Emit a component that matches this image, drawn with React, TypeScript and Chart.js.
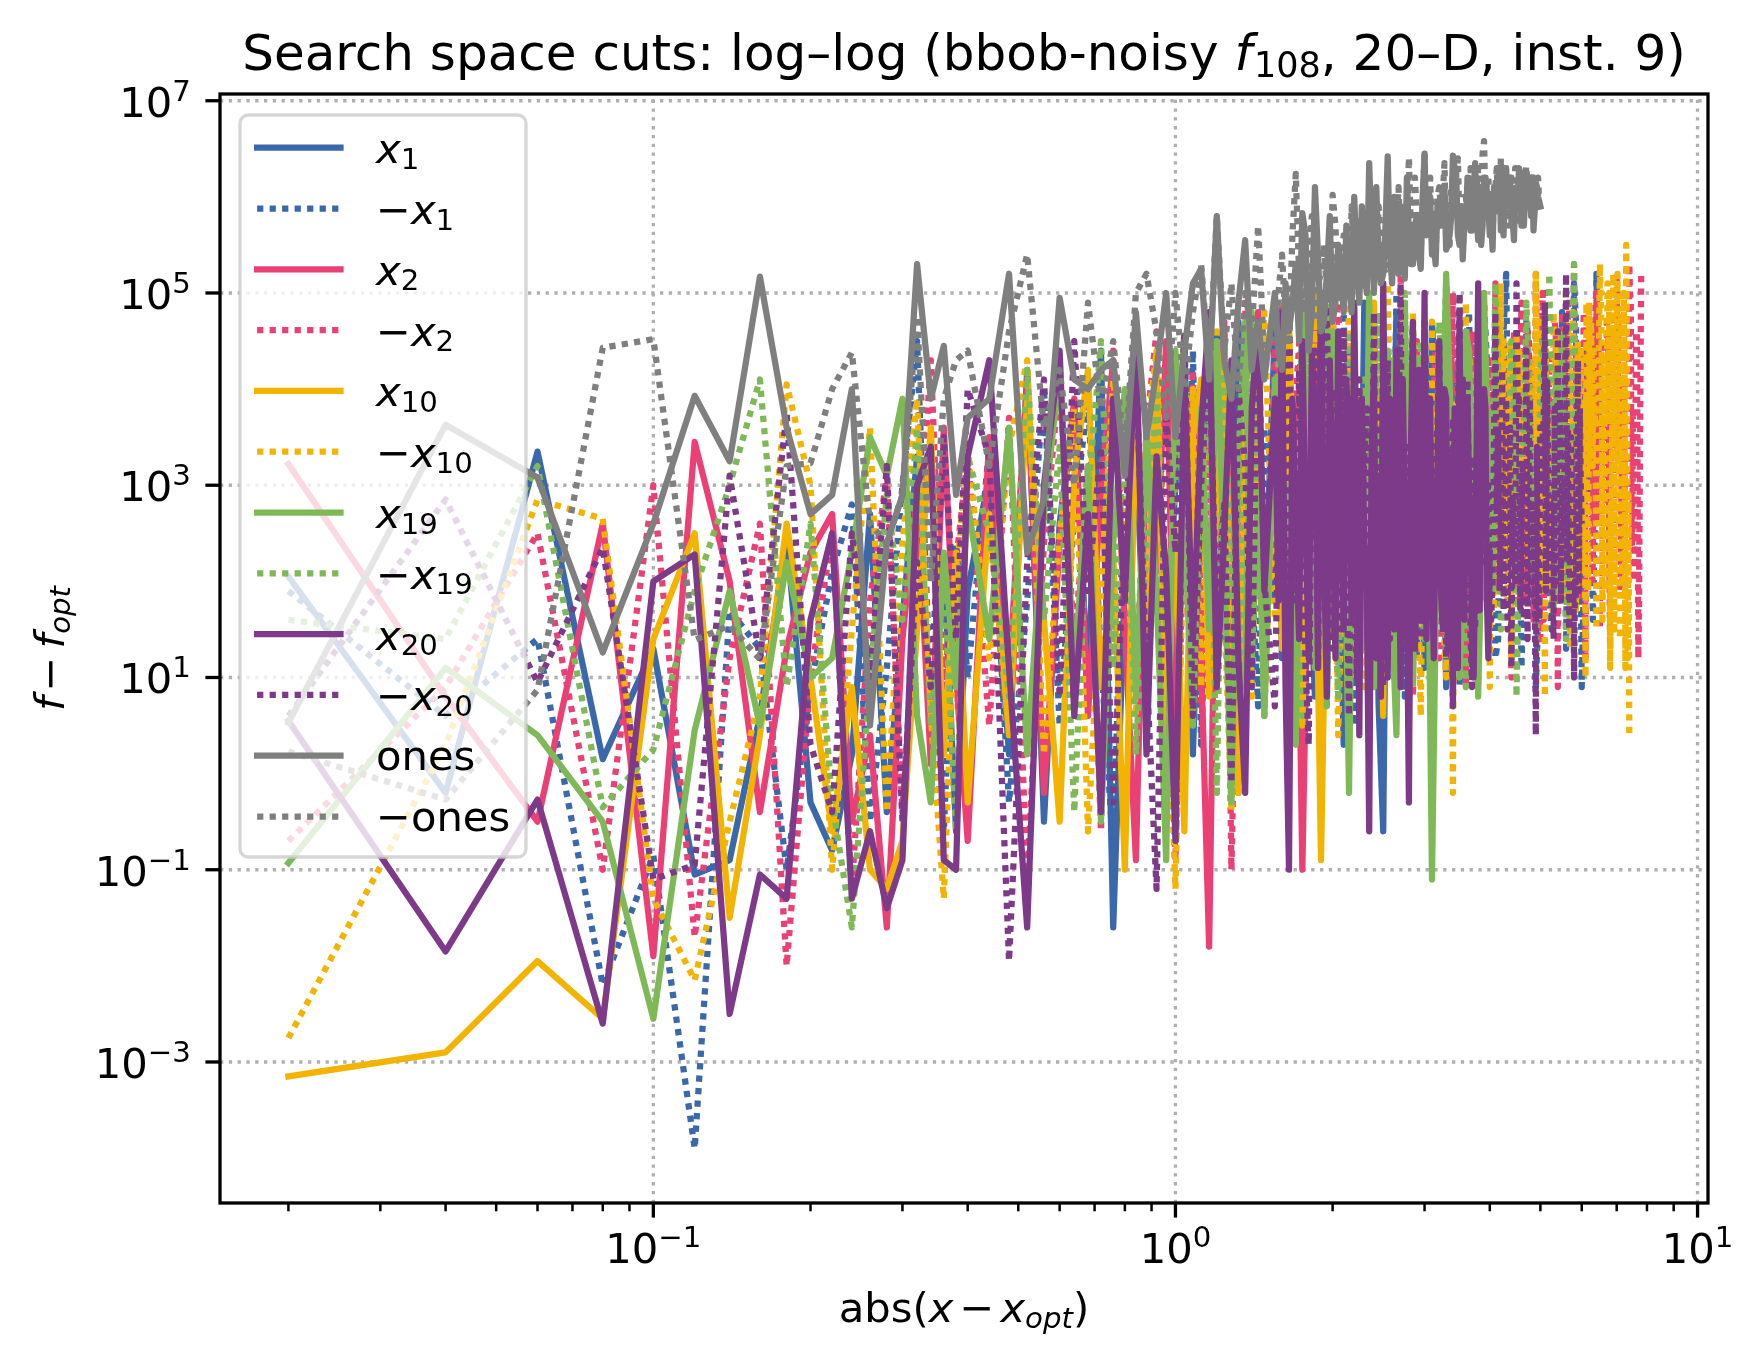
import { useEffect, useRef } from "react"
import { Chart, registerables } from "chart.js"

Chart.register(...registerables)

// abs(x - x_opt) sample positions
const X_GRID = [
  0.02, 0.04, 0.06, 0.08, 0.1, 0.12, 0.14, 0.16, 0.18, 0.2, 0.22, 0.24, 0.26, 0.28, 0.3, 0.32, 0.34, 0.36, 0.38, 0.4,
  0.44, 0.48, 0.52, 0.56, 0.6, 0.64, 0.68, 0.72, 0.76, 0.8, 0.84, 0.88, 0.92, 0.96, 1.0, 1.04, 1.08, 1.12, 1.16, 1.2,
  1.24, 1.28, 1.32, 1.36, 1.4, 1.44, 1.48,
  1.55, 1.6, 1.65, 1.7, 1.75, 1.8, 1.85, 1.9, 1.95, 2.0, 2.05, 2.1, 2.15, 2.2, 2.25, 2.3, 2.35, 2.4, 2.45, 2.5, 2.55,
  2.6, 2.65, 2.7, 2.75, 2.8, 2.85, 2.9, 2.95, 3.0,
  3.05, 3.1, 3.15, 3.2, 3.25, 3.3, 3.35, 3.4, 3.45, 3.5, 3.55, 3.6, 3.65, 3.7, 3.75, 3.8, 3.85, 3.9, 3.95, 4.0,
  4.05, 4.1, 4.15, 4.2, 4.25, 4.3, 4.35, 4.4, 4.45, 4.5, 4.55, 4.6, 4.65, 4.7, 4.75, 4.8, 4.85, 4.9, 4.95, 5.0,
  5.05, 5.1, 5.15, 5.2, 5.25, 5.3, 5.35, 5.4, 5.45, 5.5, 5.55, 5.6, 5.65, 5.7, 5.75, 5.8, 5.85, 5.9, 5.95, 6.0,
  6.05, 6.1, 6.15, 6.2, 6.25, 6.3, 6.35, 6.4, 6.45, 6.5, 6.55, 6.6, 6.65, 6.7, 6.75, 6.8, 6.85, 6.9, 6.95, 7.0,
  7.05, 7.1, 7.15, 7.2, 7.25, 7.3, 7.35, 7.4, 7.45, 7.5, 7.55, 7.6, 7.65, 7.7, 7.75, 7.8,
]
// extra in-between samples used where the reference is densest
const X_MID_C = [
  1.575, 1.625, 1.675, 1.725, 1.775, 1.825, 1.875, 1.925, 1.975, 2.025, 2.075, 2.125, 2.175, 2.225, 2.275, 2.325,
  2.375, 2.425, 2.475, 2.525, 2.575, 2.625, 2.675, 2.725, 2.775, 2.825, 2.875, 2.925, 2.975,
]
const X_MID_D = [
  3.025, 3.075, 3.125, 3.175, 3.225, 3.275, 3.325, 3.375, 3.425, 3.475, 3.525, 3.575, 3.625, 3.675, 3.725, 3.775,
  3.825, 3.875, 3.925, 3.975,
  4.025, 4.075, 4.125, 4.175, 4.225, 4.275, 4.325, 4.375, 4.425, 4.475, 4.525, 4.575, 4.625, 4.675, 4.725, 4.775,
  4.825, 4.875, 4.925, 4.975,
  5.025, 5.075, 5.125, 5.175, 5.225, 5.275, 5.325, 5.375, 5.425, 5.475, 5.525, 5.575, 5.625, 5.675, 5.725, 5.775,
  5.825, 5.875, 5.925, 5.975,
  6.025, 6.075, 6.125, 6.175, 6.225, 6.275, 6.325, 6.375, 6.425, 6.475, 6.525, 6.575, 6.625, 6.675, 6.725, 6.775,
  6.825, 6.875, 6.925, 6.975,
  7.025, 7.075, 7.125, 7.175, 7.225, 7.275, 7.325, 7.375, 7.425, 7.475, 7.525, 7.575, 7.625, 7.675, 7.725, 7.775,
]

// log10(f - f_opt) along each direction, index i belongs to X_GRID[i]
const LOG_X1 = [
  2.05, -0.2, 3.35, 0.15, 1.3, -1.05, -0.9, 0.6, 2.45, -0.3, -0.8, 0.2, 2.7, -0.4, 1.6, 3.3, 0.4, 2.2, -0.6, 1.9,
  3.1, 0.2, 4.2, -0.5, 2.6, 3.8, 0.9, 4.4, -1.6, 2.0, 3.5, 0.6, 4.1, 1.4, 3.0, 4.5, 0.2, 2.8, 4.3, 1.1, 3.6, 0.5, 4.7,
  2.2, 0.9, 3.9, 1.6,
  4.6, 1.2, 3.4, 0.4, 4.9, 2.3, 0.8, 3.7, 4.8, 1.5, 2.9, 0.3, 4.4, 3.1, 1.0, 4.9, 2.2, 3.6, 0.7, -0.6, 4.1, 2.5, 4.8,
  1.3, 3.3, 0.5, 4.6, 2.0, 3.8, 1.1,
  2.2, 4.7, 4.0, 2.4, 3.1, 0.9, 1.7, 4.2, 2.6, 3.0,
]
const LOG_NX1 = [
  1.9, 0.6, 1.4, -2.2, -0.85, -3.9, 1.7, 1.3, -1.0, 0.9, 2.1, 2.8, -0.5, 1.1, 3.0, 4.5, 0.7, -0.6, 2.4, 1.0,
  3.4, -0.3, 1.8, 4.0, 0.5, 2.7, 3.9, 1.2, -0.8, 3.3, 4.3, 0.8, 2.5, -0.4, 3.8, 1.9, 4.4, 0.3, 2.9, 4.6, 1.4, 3.2, -0.2,
  4.1, 2.0, 0.7, 3.6,
  1.8, 4.5, 0.6, 3.0, 4.9, 1.3, 2.6, 0.2, 4.3, 3.5, 1.0, 4.8, 2.1, 0.5, 3.9, 1.7, 4.6, 2.9, 0.9, 4.2, 3.3, 1.5, 5.0,
  2.4, 0.8, 3.7, 4.7, 1.2, 2.8, 4.4,
  4.2, 1.6, 2.5, 3.9, 3.6, 5.1, 4.4, 2.2, 2.9, 0.9, 1.7, 4.5, 4.8, 3.0, 3.2, 1.8, 2.0, 4.9, 4.3, 2.6,
  3.6, 1.2, 1.4, 4.1, 4.6, 5.2, 2.9, 2.0, 4.0, 3.4, 3.3, 1.1, 2.2, 4.7, 4.5, 2.8, 3.8, 0.9, 1.6, 4.3,
  2.7, 5.0, 4.4, 1.9, 1.5, 3.6, 3.9, 2.4, 2.3, 4.8, 4.6, 1.3, 3.5, 3.1, 1.8, 5.1, 4.7, 2.2, 3.0, 0.9,
  1.9, 4.4, 4.1, 2.9, 3.6, 1.6, 2.4, 5.2, 4.5, 3.3,
]
const LOG_X2 = [
  3.22, 0.8, -0.5, 2.6, -1.9, 3.45, 2.0, -0.4, 1.3, 2.3, 2.7, -0.5, 0.4, -1.6, 1.4, 2.9, 0.1, 3.6, 1.0, -0.7,
  3.5, 1.0, 4.1, -0.2, 2.4, 3.9, 0.6, 3.0, 4.3, 1.5, -0.9, 3.6, 2.1, 4.5, 0.3, 2.8, 4.0, 1.2, -1.8, 3.4, 4.6, 1.9, 0.4,
  3.7, 2.5, 4.8, 1.0,
  3.2, 4.9, 1.4, 3.8, -1.0, 2.6, 4.7, 0.9, 3.3, 5.0, 1.8, 4.2, 2.7, 1.1,
]
const LOG_NX2 = [
  -0.7, 0.9, 2.5, -1.0, 3.0, -1.7, 1.2, 2.6, -2.0, 1.0, 2.5, -1.2, 1.8, 3.1, -0.4, 2.0, 4.3, 0.9, 2.2, 3.3,
  0.5, 3.7, -1.1, 2.4, 4.1, 1.3, 3.2, -0.6, 4.4, 2.0, 0.8, 3.6, 4.6, 1.7, -0.9, 2.9, 4.2, 0.7, 3.5, 1.9, 4.7, -1.0, 2.6,
  4.9, 1.4, 3.8, 0.6,
  4.5, 2.2, 0.4, 3.9, 5.0, 1.6, 2.8, 4.6, 0.9, 3.4, 5.1, 1.9, 0.5, 4.2, 2.5, 3.7, 1.1, 4.8, 2.9, 0.7, 4.4, 3.2, 1.5,
  5.2, 2.1, 3.8, 0.8, 4.5, 2.6, 1.4,
  2.6, 4.1, 4.4, 1.2, 1.9, 3.3, 3.1, 5.0, 4.5, 2.0, 2.8, 0.9, 1.7, 4.6, 4.3, 2.7, 2.4, 3.9, 3.6, 1.5,
  1.9, 5.1, 4.7, 2.3, 3.0, 4.2, 2.2, 1.0, 4.6, 3.5, 2.5, 4.9, 3.9, 1.8, 4.2, 2.9, 1.6, 5.2, 3.3, 1.4,
  5.0, 3.7, 2.7, 4.4, 3.9, 2.1, 4.6, 0.9, 1.8, 4.8, 2.9, 3.0, 4.9, 1.6, 3.5, 5.3, 4.4, 2.5, 2.1, 3.8,
  4.8, 1.2, 3.1, 4.5, 3.8, 2.2, 2.6, 5.0, 4.9, 1.5, 2.4, 3.4, 3.2, 4.7, 4.6, 1.3, 3.9, 2.8, 2.3, 5.2,
  4.7, 1.9, 3.0, 4.1, 4.4, 1.4, 2.2, 5.3, 4.9, 2.4, 2.0, 3.6, 4.6, 1.2, 3.0, 5.2,
]
const MID_NX2_D = [
  3.4, 2.1, 4.0, 2.7, 1.6, 3.8, 2.3, 4.2, 1.9, 3.1, 2.6, 4.4, 1.8, 3.3, 2.5, 4.1, 2.0, 3.6, 2.9, 1.7,
  4.3, 2.4, 3.2, 1.9, 4.5, 2.8, 3.5, 2.0, 3.9, 2.6, 1.8, 4.2, 3.0, 2.3, 4.6, 1.9, 3.4, 2.7, 4.0, 2.2,
  3.7, 1.6, 4.4, 2.9, 3.3, 2.1, 4.7, 2.5, 3.6, 1.9, 4.1, 2.8, 3.2, 4.8, 2.2, 3.9, 2.6, 4.4, 1.8, 3.5,
  2.9, 4.6, 2.3, 3.8, 4.2, 2.0, 3.4, 4.9, 2.6, 3.1, 4.5, 1.9, 3.7, 2.8, 4.3, 2.4, 4.8, 3.0, 2.2, 4.0,
  3.3, 4.7, 2.1, 3.9, 2.7, 4.4, 1.8, 3.6, 5.0, 2.5, 3.8, 2.2, 4.6, 3.1, 1.7, 4.2,
]
const LOG_X10 = [
  -3.15, -2.9, -1.95, -2.55, 1.4, 2.5, -1.5, 0.4, 2.6, 1.0, -0.6, 0.9, -1.0, -1.2, -0.7, 1.5, 3.6, 0.2, 2.3, -0.3,
  2.7, 0.4, 3.9, 1.6, -0.5, 3.1, 4.2, 0.9, 2.3, -1.0, 3.7, 1.4, 4.4, 0.2, 2.6, -0.6, 3.5, 4.1, 0.8, 2.9, 4.5, 1.1, -0.2,
  3.3, 2.0, 4.6, 0.7,
  3.8, 1.3, 4.7, 2.2, 0.5, 4.0, 3.1, -0.9, 2.6, 4.8, 1.7, 3.4, 0.3, 4.5, 2.0, 3.7, 1.0, 4.9, 2.8, 0.6, 4.2, 3.0,
]
const LOG_NX10 = [
  -2.75, 0.3, 2.85, 2.65, -1.3, -2.15, -0.5, 0.8, 4.05, 3.0, -1.0, 1.5, 3.6, -0.4, 2.4, 3.9, 0.6, -1.3, 2.0, 3.4,
  1.2, 3.4, 4.3, 0.2, 2.5, 3.8, -0.6, 1.9, 4.1, 2.9, 0.6, 3.5, 4.4, 1.5, -1.2, 2.8, 4.0, 0.9, 3.3, 4.6, 1.8, -0.4, 2.6,
  4.2, 0.8, 3.6, 4.8,
  1.6, 2.9, 4.5, 0.7, 3.7, 2.0, 5.0, 1.2, 3.2, 4.4, 0.4, 2.7, 4.9, 1.9, 3.5, 0.9, 4.6, 2.4, 3.9, 1.4, 5.1, 2.2, 0.8,
  4.3, 3.0, 1.7, 4.8, 2.5, 0.6, 3.8,
  2.1, 4.7, 3.8, 2.3, 4.3, 1.0, 1.9, -0.2, 2.7, 3.6, 1.5, 4.9, 4.4, 1.7, 3.6, 2.8, 1.8, 4.2, 4.0, 0.9,
  2.4, 3.3, 3.0, 5.1, 4.5, 2.0, 3.4, 1.2, 2.5, 4.6, 4.4, 3.0, 3.7, 1.6, 2.2, 4.0, 3.3, 5.2, 4.6, 2.4,
  3.1, 0.8, 1.9, 3.7, 2.6, 4.8, 4.4, 1.9, 3.8, 2.9, 2.0, 5.0, 4.6, 1.3, 2.3, 3.9, 1.7, 4.5, 4.2, 2.1,
  3.9, 1.0, 2.4, 4.9, 4.7, 3.2, 3.6, 1.5, 2.9, 5.3, 4.5, 2.6, 1.9, 4.1, 3.7, 1.1, 2.8, 5.2, 4.6, 3.5,
  3.2, 1.4, 2.6, 4.7, 3.9, 5.5, 1.2, 0.4,
]
const MID_NX10_D = [
  2.9, 1.8, 3.5, 2.4, 4.0, 1.3, 3.1, 2.2, 3.9, 2.6, 1.5, 3.7, 2.8, 4.2, 1.9, 3.3, 2.5, 4.4, 2.0, 3.0,
  3.8, 1.7, 2.9, 4.1, 2.3, 3.6, 1.8, 4.5, 2.7, 3.2, 2.1, 4.0, 3.4, 1.6, 3.9, 2.6, 4.3, 2.2, 3.5, 4.7,
  1.9, 3.0, 4.4, 2.5, 3.7, 1.7, 4.2, 3.1, 2.4, 4.6, 2.9, 3.6, 1.8, 4.1, 2.6, 4.8, 3.3, 2.0, 3.9, 4.4,
  2.3, 3.5, 4.9, 1.9, 3.2, 4.2, 4.4, 3.8, 2.1, 4.6, 4.9, 1.6, 4.3, 3.6, 5.1, 5.0, 2.8, 4.7, 1.5, 4.5,
  5.2, 3.4, 4.8, 2.0, 5.0, 1.1, 4.4, 2.9,
]
const LOG_X19 = [
  -0.93, 1.1, 0.4, -0.5, -2.55, 0.45, 1.9, 0.5, 2.2, 1.0, 1.2, 2.3, 3.5, 3.1, 3.9, 0.6, -0.3, 2.3, 0.9, 2.8,
  1.4, 3.6, 0.2, 2.7, 4.2, 1.0, 3.2, -0.5, 2.4, 4.0, 0.8, 3.5, 1.9, -0.9, 4.4, 2.6, 0.5, 3.8, 1.5, 4.5, 2.2, -0.3, 3.3,
  4.7, 1.2, 2.9, 0.6,
  4.1, 1.8, 3.0, 0.3, 4.8, 2.5, 1.1, 3.9, 0.7, 4.6, 2.0, 3.4, -0.2, 4.2, 2.8, 1.3, 5.0, 0.9, 3.6, 2.3, 4.4, 1.6, 0.4,
  3.1, 4.9, 2.1, 1.0, 4.3, 2.7, 3.8,
  2.4, -1.1, 1.6, 3.9, 3.5, 5.2, 4.1, 2.2, 2.9, 1.0, 1.8, 4.6, 4.4, 3.0, 3.3, 0.8, 2.1, 5.0, 3.8, 2.6,
  1.9, 4.2,
]
const LOG_NX19 = [
  1.6, 1.4, 3.2, -0.35, 0.25, 1.9, 3.0, 4.1, 0.9, 2.6, -0.3, -1.6, 1.0, 2.9, 1.6, 3.6, 0.5, 2.1, -0.6, 3.3,
  2.5, 0.8, 4.2, 1.6, 3.4, -0.4, 2.9, 4.5, 1.1, 3.7, 0.2, 2.4, 4.0, 1.5, 3.1, 4.6, 0.7, 2.8, 3.9, -0.2, 4.3, 1.8, 3.5,
  0.9, 4.8, 2.3, 1.2,
  3.6, 4.9, 1.4, 2.7, 0.6, 4.4, 3.2, 1.9, 5.1, 2.4, 0.8, 3.8, 4.6, 1.2, 2.9, 4.1, 0.5, 3.5, 4.8, 2.0, 1.1, 4.3, 3.0,
  1.7, 5.0, 2.5, 0.9, 3.9, 4.5, 1.4,
  3.7, 2.2, 2.5, 4.7, 4.0, 1.3, 1.9, 3.4, 2.8, 5.0, 4.1, 0.9, 3.5, 2.6, 1.6, 4.3, 4.4, 1.8, 2.3, 3.8,
  3.3, 5.1, 4.2, 1.5, 1.9, 2.9, 3.1, 4.5, 4.0, 0.8, 2.2, 3.6, 3.4, 4.9, 4.3, 2.1, 3.0, 1.2, 2.1, 4.2,
  4.5, 3.1, 2.6, 5.2, 3.8, 1.7, 4.2, 2.7, 2.4, 4.6, 3.3, 1.4, 2.2, 3.9, 4.4, 5.3, 3.5, 2.0,
]
const LOG_X20 = [
  0.55, -1.85, -0.27, -2.6, 2.0, 2.28, -2.5, -1.05, -1.3, 1.6, 2.5, -1.3, -0.6, -1.4, -0.9, 3.0, 3.4, -0.9, -1.0, 3.3,
  4.3, 1.1, -1.6, 3.0, 4.4, 0.6, 2.7, -0.4, 3.9, 1.8, 4.6, 0.2, 3.3, 2.1, -0.7, 4.1, 1.4, 3.6, 4.8, 0.9, 2.5, 4.3, 1.2,
  -0.2, 3.8, 4.7, 1.9,
  3.9, 4.8, -1.0, 2.6, 4.5, 1.2, 3.7, 5.0, 0.8, 2.9, 4.6, 1.5, 3.4, 4.9, 0.4, 2.4, -0.6, 4.2, 3.1, 5.1, 1.0, 3.8, 4.4,
  0.9, 2.7, -0.3, 4.7, 3.5, 1.6, 5.0,
  3.6, 2.0, 2.8, 4.5, 1.5, 3.9, 3.3, 0.7, 2.4, 4.8, 4.1, 3.4, 3.0, 1.2, 2.2, 5.1, 3.7, 4.0, 1.8, 2.3,
]
const MID_X20_C = [
  1.8, 0.9, 3.9, 1.4, 2.6, 4.4, 1.1, 2.3, 4.3, 1.2, 2.7, 4.1, 1.6, 2.8, 3.9, 1.9, 3.3, 1.2, 0.8, 3.0,
  3.9, 1.5, 2.8, 4.1, 1.9, 3.4, 1.3, 4.2, 2.7,
]
const MID_X20_D = [
  1.4, 3.9, 1.2, 3.1, 1.9, 4.0, 1.3, 2.5, 3.8, 1.1, 2.4, 1.6, 3.9, 2.7, 1.0, 3.4, 1.7, 2.9, 3.8, 1.2,
]
const LOG_NX20 = [
  0.6, 2.85, 0.95, 2.35, -1.1, -0.95, 3.1, 1.2, 3.75, 0.3, -0.4, 2.5, 1.0, 3.2, -0.5, 2.2, 0.9, 3.5, 1.4, 4.0,
  3.3, -1.95, 2.2, 4.1, 0.8, 4.5, 1.9, 3.4, -0.3, 2.6, 4.2, 1.1, -1.2, 3.7, 2.3, 4.6, 0.6, 3.0, 4.4, 1.6, 2.8, -0.1, 4.0,
  3.2, 0.9, 4.7, 2.0,
  0.7, 3.6, 4.9, 1.8, 3.0, 0.3, 4.4, 2.5, 5.0, 1.3, 3.8, 4.6, 0.6, 2.2, 4.1, 3.3, 1.0, 4.8, 2.7, 0.9, 4.3, 3.9, 1.7,
  5.1, 2.4, 0.8, 4.0, 3.5, 1.4, 4.7,
  1.8, 2.9, 3.4, 4.5, 2.6, 1.2, 1.9, 3.7, 3.1, 5.0, 4.0, 2.1, 2.7, 0.9, 1.5, 4.2, 3.8, 3.3, 2.9, 1.6,
  2.0, 4.8, 3.6, 2.5, 1.7, 3.9, 3.2, 1.1, 2.4, 5.1, 3.9, 2.8, 1.6, 4.4, 3.4, 1.8, 2.7, 0.4, 1.9, 3.6,
  3.5, 4.9, 4.1, 2.2, 2.8, 1.4, 2.0, 4.6, 3.9, 3.0, 2.5, 5.2, 3.6, 1.9, 2.9, 1.0, 1.8, 4.3, 3.8, 2.6,
]
const MID_NX20_C = [
  2.9, 1.6, 2.7, 4.2, 1.1, 3.5, 1.8, 3.7, 2.2, 4.0, 1.5, 2.4, 3.9, 1.0, 2.6, 3.8, 2.4, 1.3, 3.9, 2.6,
  1.4, 2.5, 3.6, 1.6, 3.4, 2.7, 1.3, 2.9, 2.2,
]
const MID_NX20_D = [
  3.8, 2.3, 1.7, 3.6, 2.0, 3.4, 1.5, 3.1, 2.4, 3.7, 1.9, 2.8, 4.1, 1.4, 3.3, 2.6, 1.8, 3.9, 2.2, 3.0,
  1.6, 3.5, 2.7, 1.9, 4.2, 2.3, 1.5, 3.6, 2.9, 2.0, 3.8, 1.7, 3.2, 2.5, 1.4, 3.9, 2.8, 2.1, 3.4, 1.6,
  2.9, 3.7, 1.9, 3.1, 2.4, 1.7, 3.8, 2.6, 3.3, 1.8, 2.7, 4.0, 2.2, 1.5, 3.5, 2.8, 2.0, 3.6, 1.9, 3.0,
]
const LOG_ONES = [
  0.53, 3.63, 3.08, 1.26, 2.6, 3.93, 3.25, 5.17, 3.6, 2.7, 2.9, 4.0, 0.5, 2.4, 2.9, 5.3, 3.9, 4.45, 2.9, 3.7,
  3.9, 5.2, 2.3, 2.85, 4.95, 4.1, 4.0, 4.2, 4.3, 3.1, 4.8, 3.5, 4.2, 5.0, 3.5, 4.4, 5.1, 5.25, 4.1, 5.8, 4.3, 3.9, 4.9,
  5.55, 4.2, 4.7, 4.1,
  5.0, 4.2, 4.6, 5.3, 5.83, 4.4, 6.1, 4.6, 5.2, 4.7, 5.5, 4.8, 5.1, 6.0, 4.9, 5.4, 6.35, 5.0, 5.3, 5.2, 6.42, 5.1, 5.5,
  5.9, 5.15, 5.6, 5.3, 5.8, 5.25, 6.45,
  5.8, 5.4, 5.3, 5.9, 6.1, 5.45, 5.6, 6.43, 6.2, 5.5, 5.35, 5.7, 5.9, 6.0, 6.35, 5.55, 5.5, 6.2, 6.05, 5.6,
  5.45, 5.95, 6.2, 5.65, 5.6, 6.3, 5.9, 5.75, 5.55, 6.1, 6.3, 5.7, 5.7, 6.25, 6.15, 5.8, 5.65, 6.05, 6.0, 5.9,
]
const MID_ONES_C = [
  4.4, 5.1, 4.9, 4.5, 5.6, 4.8, 5.4, 4.7, 5.8, 4.9, 5.2, 5.7, 4.8, 5.3, 5.9, 5.0, 5.6, 6.1, 5.1, 5.7,
  5.4, 6.0, 5.2, 5.5, 6.2, 5.3, 5.7, 5.4, 6.0,
]
const MID_ONES_D = [
  5.6, 6.0, 5.5, 5.9, 5.7, 6.1, 5.5, 5.8, 6.3, 5.6, 5.9, 5.7, 6.2, 5.65, 6.0, 5.8, 6.1, 5.7, 6.2, 5.9,
  5.75, 6.1, 5.85, 6.3, 5.8, 6.0, 5.9, 6.2, 5.75, 6.05, 5.95, 6.25, 5.8, 6.1, 5.9, 6.0, 6.2, 5.85, 6.1, 5.95,
]
const LOG_NONES = [
  0.23, -0.27, 0.87, 4.43, 4.52, 1.39, 1.54, 1.19, 3.2, 3.23, 4.0, 4.38, 2.6, 2.4, 2.9, 4.76, 2.0, 3.9, 4.3, 4.4,
  3.2, 4.6, 5.4, 3.6, 4.2, 3.0, 4.9, 3.8, 4.5, 3.3, 5.0, 5.2, 4.6, 3.7, 5.0, 4.0, 4.8, 5.3, 4.2, 5.8, 4.4, 5.1, 4.0,
  5.0, 4.6, 5.7, 4.3,
  4.6, 5.4, 4.5, 6.24, 4.8, 5.5, 4.7, 5.2, 5.0, 6.02, 4.9, 5.6, 5.0, 5.3, 5.8, 5.1, 5.6, 5.2, 5.9, 5.3, 6.0, 5.25, 5.7,
  5.4, 5.9, 6.41, 5.5, 5.8, 5.45, 6.43,
  5.9, 5.6, 5.4, 6.1, 6.0, 5.55, 5.5, 6.2, 6.25, 5.7, 5.45, 6.0, 6.1, 5.65, 5.8, 6.3, 6.0, 6.58, 6.2, 5.75,
  5.6, 6.1, 5.9, 6.4, 6.3, 5.8, 5.7, 6.2, 6.1, 5.85, 5.75, 6.0, 5.9, 6.32, 6.1, 5.9, 5.8, 6.15, 6.2, 5.95,
]
const MID_NONES_C = [
  5.0, 4.7, 5.6, 5.2, 4.9, 5.8, 5.1, 5.5, 4.9, 5.7, 5.2, 5.0, 5.9, 5.3, 5.5, 5.0, 6.0, 5.4, 5.6, 5.2,
  5.8, 5.5, 6.1, 5.3, 5.7, 5.6, 6.2, 5.4, 5.9,
]
const MID_NONES_D = [
  5.8, 6.2, 5.7, 6.0, 5.9, 6.35, 5.75, 6.1, 5.85, 6.4, 5.9, 6.0, 5.7, 6.3, 5.95, 6.1, 5.8, 6.45, 5.9, 6.2,
  5.85, 6.05, 6.3, 5.9, 6.1, 5.8, 6.2, 6.0, 5.85, 6.3, 5.95, 6.1, 5.9, 6.2, 6.0, 5.85, 6.25, 5.95, 6.1, 5.9,
]

const SERIES = [
  LOG_X1, LOG_NX1, LOG_X2, LOG_NX2, LOG_X10, LOG_NX10,
  LOG_X19, LOG_NX19, LOG_X20, LOG_NX20, LOG_ONES, LOG_NONES,
]
const MIDS_C: (number[] | null)[] = [
  null, null, null, null, null, null, null, null, MID_X20_C, MID_NX20_C, MID_ONES_C, MID_NONES_C,
]
const MIDS_D: (number[] | null)[] = [
  null, null, null, MID_NX2_D, null, MID_NX10_D, null, null, MID_X20_D, MID_NX20_D, MID_ONES_D, MID_NONES_D,
]
const LABELS = ["x_1", "-x_1", "x_2", "-x_2", "x_10", "-x_10", "x_19", "-x_19", "x_20", "-x_20", "ones", "-ones"]
const BLUE = "#3a68aa"
const PINK = "#ea4076"
const YELLOW = "#f2b400"
const GREEN = "#7fb957"
const PURPLE = "#7d3a89"
const GREY = "#7f7f7f"
const COLORS = [BLUE, BLUE, PINK, PINK, YELLOW, YELLOW, GREEN, GREEN, PURPLE, PURPLE, GREY, GREY]
const DOTTED = [false, true, false, true, false, true, false, true, false, true, false, true]

const Y_TICKS = [1e-3, 1e-1, 1e1, 1e3, 1e5, 1e7]
const X_TICKS = [0.1, 1, 10]
const X_MINOR = [
  0.02, 0.03, 0.04, 0.05, 0.06, 0.07, 0.08, 0.09,
  0.2, 0.3, 0.4, 0.5, 0.6, 0.7, 0.8, 0.9,
  2, 3, 4, 5, 6, 7, 8, 9,
]

const TITLE = "Search space cuts: log\u2013log (bbob-noisy "
const TITLE_END = ", 20\u2013D, inst. 9)"

const W = 1763
const H = 1368
const FONT = '"DejaVu Sans", sans-serif'
const FS = 41.7
const LW = 6.25

type Seg = { t: string; it?: boolean; k?: number; dy?: number; pre?: number; post?: number }

function fontOf(s: Seg, size: number) {
  return `${s.it ? "italic " : ""}${(size * (s.k ?? 1)).toFixed(2)}px ${FONT}`
}

function drawSegs(ctx: CanvasRenderingContext2D, segs: Seg[], x: number, y: number, size: number, align: string) {
  let w = 0
  for (const s of segs) {
    ctx.font = fontOf(s, size)
    w += (s.pre ?? 0) + ctx.measureText(s.t).width + (s.post ?? 0)
  }
  let cx = align === "left" ? x : align === "center" ? x - w / 2 : x - w
  ctx.textAlign = "left"
  ctx.textBaseline = "alphabetic"
  for (const s of segs) {
    ctx.font = fontOf(s, size)
    cx += s.pre ?? 0
    ctx.fillText(s.t, cx, y + (s.dy ?? 0))
    cx += ctx.measureText(s.t).width + (s.post ?? 0)
  }
}

function powSegs(v: number): Seg[] {
  const e = Math.round(Math.log10(v))
  const txt = e < 0 ? "\u2212" + Math.abs(e) : String(e)
  return [{ t: "10" }, { t: txt, k: 0.7, dy: -16 }]
}

function legendSegs(label: string): Seg[] {
  const segs: Seg[] = []
  let rest = label
  if (rest.startsWith("-")) {
    segs.push({ t: "\u2212" })
    rest = rest.slice(1)
  }
  const [base, sub] = rest.split("_")
  if (sub) {
    segs.push({ t: base, it: true })
    segs.push({ t: sub, k: 0.7, dy: 5.5 })
  } else {
    segs.push({ t: base })
  }
  return segs
}

function buildPoints(i: number) {
  const pts = SERIES[i].map((v, k) => ({ x: X_GRID[k], y: Math.pow(10, v) }))
  const mc = MIDS_C[i]
  const md = MIDS_D[i]
  if (mc) mc.forEach((v, k) => pts.push({ x: X_MID_C[k], y: Math.pow(10, v) }))
  if (md) md.forEach((v, k) => pts.push({ x: X_MID_D[k], y: Math.pow(10, v) }))
  return pts.sort((a, b) => a.x - b.x)
}

const mplFrame = {
  id: "mplFrame",
  beforeDraw(chart: any) {
    const c = chart.ctx
    c.save()
    c.fillStyle = "#ffffff"
    c.fillRect(0, 0, chart.width, chart.height)
    c.restore()
  },
  beforeDatasetsDraw(chart: any) {
    const c: CanvasRenderingContext2D = chart.ctx
    const { left, right, top, bottom } = chart.chartArea
    const xs = chart.scales.x
    const ys = chart.scales.y
    c.save()
    c.strokeStyle = "#b0b0b0"
    c.lineWidth = 3.3
    c.setLineDash([3.3, 5.5])
    for (const v of Y_TICKS) {
      const y = ys.getPixelForValue(v)
      c.beginPath()
      c.moveTo(left, y)
      c.lineTo(right, y)
      c.stroke()
    }
    for (const v of X_TICKS) {
      const x = xs.getPixelForValue(v)
      c.beginPath()
      c.moveTo(x, bottom)
      c.lineTo(x, top)
      c.stroke()
    }
    c.restore()
  },
  afterDatasetsDraw(chart: any) {
    const c: CanvasRenderingContext2D = chart.ctx
    const { left, right, top, bottom } = chart.chartArea
    const xs = chart.scales.x
    const ys = chart.scales.y
    c.save()

    // legend
    const L = { l: 240, t: 115, r: 526, b: 857, rad: 8.3 }
    c.beginPath()
    c.moveTo(L.l + L.rad, L.t)
    c.arcTo(L.r, L.t, L.r, L.b, L.rad)
    c.arcTo(L.r, L.b, L.l, L.b, L.rad)
    c.arcTo(L.l, L.b, L.l, L.t, L.rad)
    c.arcTo(L.l, L.t, L.r, L.t, L.rad)
    c.closePath()
    c.fillStyle = "rgba(255,255,255,0.8)"
    c.fill()
    c.strokeStyle = "rgba(204,204,204,0.8)"
    c.lineWidth = 3.3
    c.stroke()
    LABELS.forEach((lab, i) => {
      const y = 147.7 + 60.8 * i
      c.strokeStyle = COLORS[i]
      c.lineWidth = LW
      c.setLineDash(DOTTED[i] ? [LW, LW] : [])
      c.lineCap = DOTTED[i] ? "butt" : "square"
      c.beginPath()
      c.moveTo(257.1, y)
      c.lineTo(340.5, y)
      c.stroke()
      c.setLineDash([])
      c.lineCap = "butt"
      c.fillStyle = "#000000"
      const math = lab.includes("_")
      drawSegs(c, legendSegs(lab), 376, y + (math ? 15.5 : 14), FS, "left")
    })

    // ticks
    c.strokeStyle = "#000000"
    c.lineWidth = 3.3
    for (const v of Y_TICKS) {
      const y = ys.getPixelForValue(v)
      c.beginPath()
      c.moveTo(left, y)
      c.lineTo(left - 14.6, y)
      c.stroke()
    }
    for (const v of X_TICKS) {
      const x = xs.getPixelForValue(v)
      c.beginPath()
      c.moveTo(x, bottom)
      c.lineTo(x, bottom + 14.6)
      c.stroke()
    }
    c.lineWidth = 2.5
    for (const v of X_MINOR) {
      const x = xs.getPixelForValue(v)
      c.beginPath()
      c.moveTo(x, bottom)
      c.lineTo(x, bottom + 8.3)
      c.stroke()
    }

    // spines
    c.lineWidth = 3.3
    c.strokeRect(left, top, right - left, bottom - top)

    // tick labels
    c.fillStyle = "#000000"
    for (const v of Y_TICKS) {
      drawSegs(c, powSegs(v), left - 29.2, ys.getPixelForValue(v) + 16, FS, "right")
    }
    for (const v of X_TICKS) {
      drawSegs(c, powSegs(v), xs.getPixelForValue(v), 1263, FS, "center")
    }

    // axis labels
    const midX = (left + right) / 2
    drawSegs(
      c,
      [
        { t: "abs(" },
        { t: "x", it: true },
        { t: "\u2212", pre: 6, post: 6 },
        { t: "x", it: true },
        { t: "opt", it: true, k: 0.7, dy: 6 },
        { t: ")" },
      ],
      midX,
      1322,
      FS,
      "center"
    )
    c.save()
    c.translate(64, (top + bottom) / 2)
    c.rotate(-Math.PI / 2)
    drawSegs(
      c,
      [
        { t: "f", it: true },
        { t: "\u2212", pre: 5, post: 8 },
        { t: "f", it: true },
        { t: "opt", it: true, k: 0.7, dy: 6 },
      ],
      0,
      0,
      FS,
      "center"
    )
    c.restore()

    // title
    drawSegs(
      c,
      [
        { t: TITLE },
        { t: "f", it: true },
        { t: "108", k: 0.7, dy: 7, pre: 2 },
        { t: TITLE_END },
      ],
      midX,
      70,
      50,
      "center"
    )
    c.restore()
  },
}

export default function App() {
  const canvasRef = useRef<HTMLCanvasElement>(null)
  const chartRef = useRef<Chart | null>(null)

  useEffect(() => {
    if (!canvasRef.current) return
    if (chartRef.current) chartRef.current.destroy()

    const datasets = SERIES.map((_, i) => ({
      label: LABELS[i],
      data: buildPoints(i),
      borderColor: COLORS[i],
      backgroundColor: COLORS[i],
      borderWidth: LW,
      borderDash: DOTTED[i] ? [LW, LW] : [],
      borderCapStyle: (DOTTED[i] ? "butt" : "square") as CanvasLineCap,
      borderJoinStyle: "round" as CanvasLineJoin,
      pointRadius: 0,
      pointHoverRadius: 0,
      fill: false,
      tension: 0,
      order: SERIES.length - i,
    }))

    chartRef.current = new Chart(canvasRef.current, {
      type: "line",
      data: { datasets },
      options: {
        animation: false,
        responsive: false,
        devicePixelRatio: 1,
        events: [],
        layout: { padding: { left: 220, top: 94, right: W - 1708, bottom: H - 1203 } },
        scales: {
          x: {
            type: "logarithmic",
            min: Math.pow(10, -1.83),
            max: Math.pow(10, 1.02),
            bounds: "data",
            display: false,
          },
          y: {
            type: "logarithmic",
            min: Math.pow(10, -4.467),
            max: Math.pow(10, 7.07),
            bounds: "data",
            display: false,
          },
        },
        plugins: {
          legend: { display: false },
          title: { display: false },
          tooltip: { enabled: false },
        },
      },
      plugins: [mplFrame],
    })

    return () => {
      if (chartRef.current) {
        chartRef.current.destroy()
        chartRef.current = null
      }
    }
  }, [])

  return (
    <div style={{ position: "absolute", left: 0, top: 0, width: W, height: H, background: "#fff" }}>
      <canvas ref={canvasRef} width={W} height={H} style={{ width: W, height: H, display: "block" }} />
    </div>
  )
}
